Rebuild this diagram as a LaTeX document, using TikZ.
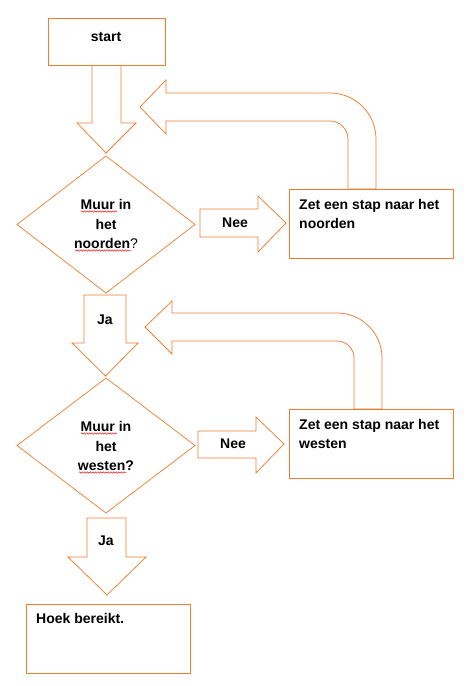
\documentclass[tikz,border=0pt]{standalone}
\usepackage{fontspec}
\setmainfont{Liberation Sans}
\usetikzlibrary{shapes.geometric,decorations.pathmorphing}
\definecolor{org}{HTML}{ED7D31}
\definecolor{squig}{HTML}{E02020}
\begin{document}
\begin{tikzpicture}[x=1pt,y=-1pt]
\useasboundingbox (0,0) rectangle (471,686);
\tikzset{
  box/.style={draw=org, fill=white, line width=0.8pt, inner sep=0pt, outer sep=0pt, anchor=north west},
  dia/.style={draw=org, fill=white, line width=0.7pt, diamond, inner sep=0pt, outer sep=0pt},
  blk/.style={draw=org, fill=white, line width=0.75pt, line join=miter},
  lbl/.style={font=\bfseries\fontsize{14}{19.5}\selectfont, text=black, inner sep=0pt},
  sq/.style={draw=squig, line width=0.5pt, decorate, decoration={snake, amplitude=0.7pt, segment length=2.6pt}},
}
% block arrows (drawn first)
\path[blk] (92,65) -- (92,123) -- (77,123) -- (106,153) -- (136,123) -- (121,123) -- (121,65) -- cycle;
\path[blk] (84,295) -- (126,295) -- (126,343) -- (138,343) -- (105.5,376) -- (72,343) -- (84,343) -- cycle;
\path[blk] (87,518) -- (126,518) -- (126,557) -- (146,557) -- (107,595) -- (68,557) -- (87,557) -- cycle;
\path[blk] (200,209) -- (258,209) -- (258,196) -- (286,223) -- (258,252) -- (258,237) -- (200,237) -- cycle;
\path[blk] (198,431) -- (256,431) -- (256,417) -- (284,444) -- (256,473) -- (256,458) -- (198,458) -- cycle;
% return arrows
\path[blk] (348,189) -- (348,139) .. controls (348,129.1) and (339.9,121) .. (330,121)
  -- (166,121) -- (166,134) -- (140,107) -- (166,80) -- (166,93) -- (330,93)
  .. controls (355.4,93) and (376,113.6) .. (376,139) -- (376,189) -- cycle;
\path[blk] (354,409) -- (354,358) .. controls (354,348.6) and (346.4,341) .. (337,341)
  -- (172,341) -- (172,354) -- (145,327) -- (172,301) -- (172,313) -- (337,313)
  .. controls (361.9,313) and (382,333.1) .. (382,358) -- (382,409) -- cycle;
% boxes
\node[box, minimum width=117pt, minimum height=47pt] (start) at (48,18) {};
\node[box, minimum width=164pt, minimum height=69pt] (zet1) at (289,189) {};
\node[box, minimum width=164pt, minimum height=69pt] (zet2) at (289,409) {};
\node[box, minimum width=164pt, minimum height=69pt] (hoek) at (26,604) {};
\node[dia, minimum width=178pt, minimum height=137pt] (d1) at (106,224.5) {};
\node[dia, minimum width=178pt, minimum height=135pt] (d2) at (106,445.5) {};
% texts
\node[lbl] (tstart) at (106,37) {start};
\node[lbl, align=center] (td1) at (106,224) {Muur in\\het\\noorden\mdseries?};
\node[lbl, align=center] (td2) at (106,446) {Muur in\\het\\westen?};
\node[lbl] (ja1) at (105,320) {Ja};
\node[lbl] (ja2) at (106,541) {Ja};
\node[lbl] (nee1) at (235,223) {Nee};
\node[lbl] (nee2) at (233,444) {Nee};
\node[lbl, anchor=north west, align=left] (tz1) at (299,199) {Zet een stap naar het\\noorden};
\node[lbl, anchor=north west, align=left] (tz2) at (299,419) {Zet een stap naar het\\westen};
\node[lbl, anchor=base west] (th) at (36,623) {Hoek bereikt.};
% spell-check underlines
\draw[sq] (81,211.5) -- (117,211.5);
\draw[sq] (75,250.5) -- (131,250.5);
\draw[sq] (81,433.5) -- (117,433.5);
\draw[sq] (79,472.5) -- (126,472.5);
\end{tikzpicture}
\end{document}
